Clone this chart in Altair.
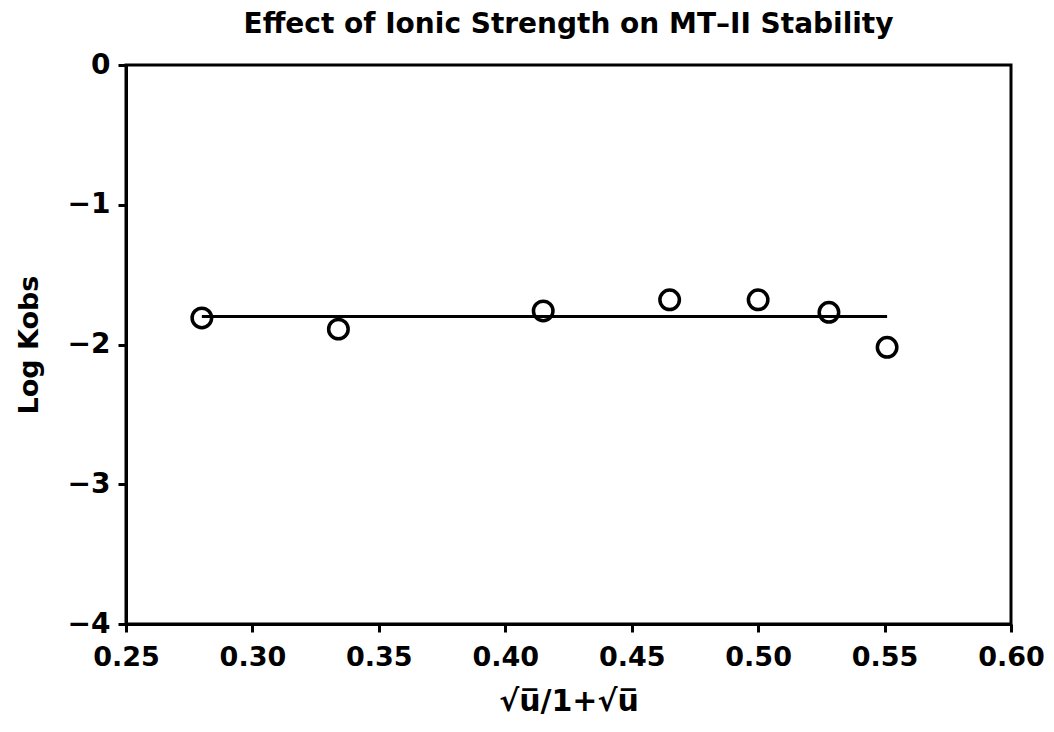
import altair as alt
import pandas as pd

x_vals = [0.280, 0.334, 0.415, 0.465, 0.500, 0.528, 0.551]
log_kobs = [-1.81, -1.89, -1.76, -1.68, -1.68, -1.77, -2.02]
fit_x = [0.280, 0.551]
fit_y = [-1.80, -1.80]
x_ticks = [0.25, 0.30, 0.35, 0.40, 0.45, 0.50, 0.55, 0.60]
y_ticks = [0, -1, -2, -3, -4]

pts = pd.DataFrame({"x": x_vals, "y": log_kobs})
fit = pd.DataFrame({"x": fit_x, "y": fit_y})

FONT = "DejaVu Sans"

xenc = alt.X("x:Q", scale=alt.Scale(domain=[0.25, 0.60], nice=False, zero=False),
             axis=alt.Axis(values=x_ticks, format=".2f", title="√u̅/1+√u̅",
                           titleFontSize=30, titleFontWeight="bold", titlePadding=16,
                           labelFontSize=27, labelFontWeight="bold", labelPadding=12,
                           labelFlush=False,
                           grid=False, tickSize=8, tickWidth=3, domainWidth=3,
                           domainColor="black", tickColor="black", labelColor="black",
                           titleColor="black", labelFont=FONT, titleFont=FONT))
yenc = alt.Y("y:Q", scale=alt.Scale(domain=[-4, 0], nice=False),
             axis=alt.Axis(values=y_ticks, format="d", title="Log Kobs",
                           titleFontSize=27, titleFontWeight="bold", titlePadding=24,
                           labelFontSize=28, labelFontWeight="bold", labelPadding=8,
                           labelFlush=False,
                           grid=False, tickSize=8, tickWidth=3, domainWidth=3,
                           domainColor="black", tickColor="black", labelColor="black",
                           titleColor="black", labelFont=FONT, titleFont=FONT))

line = alt.Chart(fit).mark_line(color="black", strokeWidth=3).encode(x=xenc, y=yenc)
points = alt.Chart(pts).mark_point(shape="circle", size=380, color="black",
                                   strokeWidth=3.5, filled=False, opacity=1).encode(x=xenc, y=yenc)

chart = (line + points).properties(
    width=885, height=559,
    title=alt.TitleParams("Effect of Ionic Strength on MT–II Stability",
                          fontSize=28, fontWeight="bold", font=FONT, color="black",
                          anchor="middle", offset=12),
    autosize=alt.AutoSizeParams(type="none"),
    padding={"left": 118, "top": 57, "right": 34, "bottom": 100},
    background="white",
).configure_view(stroke="black", strokeWidth=3)

chart.save("out.html", embed_options={"renderer": "svg", "actions": False})
